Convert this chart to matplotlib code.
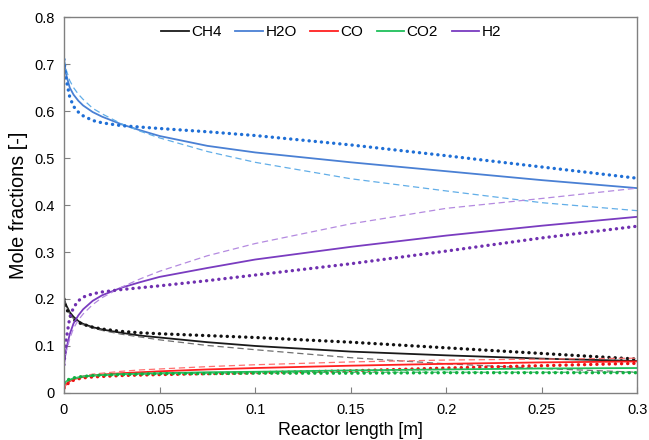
import matplotlib
matplotlib.use("Agg")
import matplotlib.pyplot as plt

plt.rcParams['font.family'] = ['Liberation Sans', 'DejaVu Sans']

# reactor length [m]
z = [0, 0.001, 0.003, 0.005, 0.0075, 0.01, 0.015, 0.02, 0.03, 0.04, 0.05,
     0.075, 0.1, 0.15, 0.2, 0.25, 0.3]

# mole fractions: solid / dashed / dotted model variants
ch4_a = [0.200, 0.188, 0.172, 0.162, 0.153, 0.147, 0.140, 0.135, 0.128, 0.122, 0.118,
         0.108, 0.100, 0.088, 0.080, 0.073, 0.068]
ch4_b = [0.200, 0.185, 0.168, 0.158, 0.150, 0.145, 0.138, 0.133, 0.125, 0.119, 0.113,
         0.101, 0.092, 0.075, 0.062, 0.052, 0.044]
ch4_c = [0.200, 0.182, 0.165, 0.156, 0.150, 0.146, 0.140, 0.136, 0.131, 0.128, 0.126,
         0.122, 0.118, 0.108, 0.096, 0.084, 0.072]

h2o_a = [0.710, 0.680, 0.650, 0.635, 0.622, 0.612, 0.598, 0.588, 0.572, 0.559, 0.547,
         0.526, 0.512, 0.491, 0.472, 0.453, 0.436]
h2o_b = [0.710, 0.690, 0.665, 0.650, 0.636, 0.625, 0.606, 0.594, 0.573, 0.557, 0.543,
         0.514, 0.491, 0.456, 0.430, 0.405, 0.388]
h2o_c = [0.710, 0.670, 0.630, 0.610, 0.598, 0.590, 0.580, 0.575, 0.569, 0.566, 0.563,
         0.556, 0.548, 0.528, 0.505, 0.481, 0.457]

co_a = [0.010, 0.018, 0.025, 0.029, 0.032, 0.034, 0.037, 0.039, 0.042, 0.044, 0.046,
        0.050, 0.053, 0.058, 0.062, 0.065, 0.067]
co_b = [0.010, 0.018, 0.026, 0.030, 0.034, 0.036, 0.040, 0.042, 0.046, 0.049, 0.051,
        0.056, 0.060, 0.066, 0.070, 0.072, 0.074]
co_c = [0.010, 0.016, 0.023, 0.027, 0.030, 0.032, 0.034, 0.035, 0.037, 0.038, 0.039,
        0.041, 0.043, 0.047, 0.053, 0.058, 0.063]

co2_a = [0.020, 0.024, 0.028, 0.031, 0.033, 0.035, 0.037, 0.038, 0.040, 0.041, 0.042,
         0.044, 0.045, 0.048, 0.050, 0.052, 0.053]
co2_b = [0.020, 0.024, 0.028, 0.031, 0.033, 0.035, 0.037, 0.038, 0.040, 0.040, 0.041,
         0.042, 0.043, 0.044, 0.044, 0.044, 0.044]
co2_c = [0.020, 0.025, 0.030, 0.032, 0.034, 0.035, 0.037, 0.038, 0.039, 0.040, 0.041,
         0.041, 0.042, 0.042, 0.043, 0.043, 0.043]

h2_a = [0.060, 0.090, 0.125, 0.148, 0.165, 0.178, 0.196, 0.208, 0.224, 0.236, 0.247,
        0.266, 0.284, 0.311, 0.335, 0.356, 0.375]
h2_b = [0.060, 0.085, 0.115, 0.138, 0.155, 0.168, 0.188, 0.203, 0.225, 0.243, 0.259,
        0.292, 0.318, 0.360, 0.393, 0.414, 0.436]
h2_c = [0.060, 0.110, 0.160, 0.182, 0.196, 0.204, 0.211, 0.215, 0.220, 0.224, 0.228,
        0.239, 0.251, 0.275, 0.302, 0.330, 0.355]

# (name, solid, dashed, dotted, colour solid, colour dashed, colour dotted)
species = [
    ("CH4", ch4_a, ch4_b, ch4_c, "#1a1a1a", "#707070", "#111111"),
    ("H2O", h2o_a, h2o_b, h2o_c, "#4a80d4", "#62aee8", "#1f6fd6"),
    ("CO", co_a, co_b, co_c, "#ff2020", "#ff7070", "#ee1111"),
    ("CO2", co2_a, co2_b, co2_c, "#1fbf5a", "#40c070", "#10b040"),
    ("H2", h2_a, h2_b, h2_c, "#7a3cc0", "#b48ae0", "#7030b0"),
]

fig = plt.figure(figsize=(6.49, 4.40), dpi=100)
ax = fig.add_axes([0.0986, 0.107, 0.8836, 0.854])

for name, sol, dsh, dot, c1, c2, c3 in species:
    ax.plot(z, sol, color=c1, lw=1.3, label=name)
    ax.plot(z, dsh, color=c2, lw=0.9, linestyle=(0, (5, 3)))
    ax.plot(z, dot, color=c3, lw=2.4, linestyle=(0, (0.05, 1.8)),
            dash_capstyle='round')

ax.set_xlim(0, 0.3)
ax.set_ylim(0, 0.8)
ax.set_xticks([0, 0.05, 0.1, 0.15, 0.2, 0.25, 0.3])
ax.set_xticklabels(["0", "0.05", "0.1", "0.15", "0.2", "0.25", "0.3"])
ax.set_yticks([0, 0.1, 0.2, 0.3, 0.4, 0.5, 0.6, 0.7, 0.8])
ax.set_yticklabels(["0", "0.1", "0.2", "0.3", "0.4", "0.5", "0.6", "0.7", "0.8"])
ax.tick_params(direction='in', length=4, width=0.8, color='#808080',
               labelsize=10.5, pad=7)
for s in ax.spines.values():
    s.set_color('#808080')
    s.set_linewidth(1.0)

ax.set_xlabel("Reactor length [m]", fontsize=12.8, labelpad=4)
ax.set_ylabel("Mole fractions [-]", fontsize=14.3, labelpad=4.5)

ax.legend(loc='upper center', ncol=5, frameon=False, fontsize=11,
          handlelength=1.8, handletextpad=0.15, columnspacing=0.9,
          bbox_to_anchor=(0.466, 1.015))

fig.savefig("out.png", dpi=100)
